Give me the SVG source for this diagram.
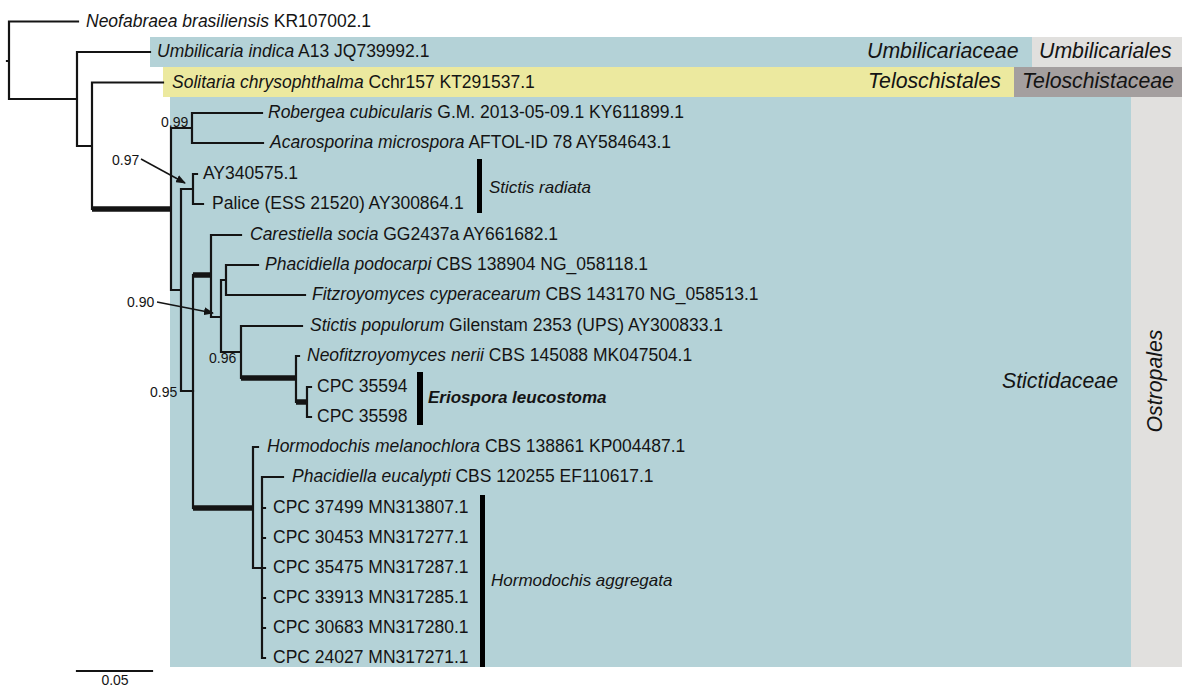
<svg xmlns="http://www.w3.org/2000/svg" width="1182" height="687" viewBox="0 0 1182 687">
<defs>
<style>
text{font-family:"Liberation Sans",Arial,sans-serif;fill:#141414}
.tip{font-size:17.5px}
.cl{font-size:17px;font-style:italic}
.i{font-style:italic}
.fam{font-size:21.3px;font-style:italic}
.sup{font-size:14px}
.br{stroke:#141414;stroke-width:2.2;fill:none;stroke-linecap:square}
.thick{stroke:#141414;stroke-width:5.5;fill:none}
.bar{fill:#000}
.arr{stroke:#141414;stroke-width:1.5;fill:none}
</style>
<marker id="ah" markerWidth="10" markerHeight="8" refX="9" refY="4" orient="auto" markerUnits="userSpaceOnUse">
<path d="M0,0 L10,4 L0,8 Z" fill="#141414"/>
</marker>
</defs>
<rect width="1182" height="687" fill="#ffffff"/>
<g id="backgrounds">
<rect x="150" y="37" width="882" height="30" fill="#b4d2d7"/>
<rect x="1032" y="37" width="150" height="30" fill="#e1e0de"/>
<rect x="163" y="67" width="851" height="30" fill="#ece99f"/>
<rect x="1014" y="67" width="168" height="30" fill="#a49f9f"/>
<rect x="170" y="97" width="961" height="570" fill="#b4d2d7"/>
<rect x="1131" y="97" width="51" height="570" fill="#e1e0de"/>
</g>
<g id="connectors">
<path class="br" d="M7,61 H9 M9,21.5 V99 M9,21.5 H78 M9,99 H77 M77,52 V146 M77,52 H150 M77,146 H92 M92,82.5 V209 M92,82.5 H163"/>
<path class="thick" d="M92,209 H171"/>
<path class="br" d="M171,128 V290 M171,128 H192 M192,113 V143 M192,113 H262 M192,143 H263 M171,290 H181 M181,189 V391 M181,189 H193 M193,174 V204 M193,174 H197 M193,204 H203 M181,391 H193"/>
<path class="br" d="M193,275 V508"/>
<path class="thick" d="M193,275 H211"/>
<path class="br" d="M211,235 V317 M211,235 H241 M211,317 H221 M221,280 V352 M221,280 H226 M226,265 V295 M226,265 H258 M226,295 H305 M221,352 H241 M241,326 V378 M241,326 H302"/>
<path class="thick" d="M241,378 H296"/>
<path class="br" d="M296,356 V402 M296,356 H299"/>
<path class="thick" d="M296,402 H307"/>
<path class="br" d="M307,387 V417 M307,387 H311 M307,417 H311"/>
<path class="thick" d="M193,508 H253"/>
<path class="br" d="M253,447 V568 M253,447 H258 M253,568 H262 M262,477 V658 M262,477 H283 M262,508 H265 M262,538 H265 M262,568 H265 M262,598 H265 M262,628 H265 M262,658 H265"/>
<line class="arr" x1="141" y1="159" x2="185" y2="183" marker-end="url(#ah)"/>
<line class="arr" x1="157" y1="302" x2="213" y2="313" marker-end="url(#ah)"/>
<path class="br" d="M77,671 H152"/>
</g>
<g id="clade-bars">
<rect class="bar" x="477" y="159" width="5" height="54"/>
<rect class="bar" x="417" y="372" width="6" height="53"/>
<rect class="bar" x="480" y="495" width="5" height="172"/>
</g>
<g id="tips">
<text class="tip" x="86" y="26.5"><tspan class="i">Neofabraea brasiliensis</tspan> KR107002.1</text>
<text class="tip" x="157" y="57"><tspan class="i">Umbilicaria indica</tspan> A13 JQ739992.1</text>
<text class="tip" x="172" y="87.5"><tspan class="i">Solitaria chrysophthalma</tspan> Cchr157 KT291537.1</text>
<text class="tip" x="268" y="118"><tspan class="i">Robergea cubicularis</tspan> G.M. 2013-05-09.1 KY611899.1</text>
<text class="tip" x="270" y="148"><tspan class="i">Acarosporina microspora</tspan> AFTOL-ID 78 AY584643.1</text>
<text class="tip" x="203" y="179">AY340575.1</text>
<text class="tip" x="212" y="209">Palice (ESS 21520) AY300864.1</text>
<text class="tip" x="250" y="240"><tspan class="i">Carestiella socia</tspan> GG2437a AY661682.1</text>
<text class="tip" x="265" y="270"><tspan class="i">Phacidiella podocarpi</tspan> CBS 138904 NG_058118.1</text>
<text class="tip" x="312" y="300"><tspan class="i">Fitzroyomyces cyperacearum</tspan> CBS 143170 NG_058513.1</text>
<text class="tip" x="310" y="331"><tspan class="i">Stictis populorum</tspan> Gilenstam 2353 (UPS) AY300833.1</text>
<text class="tip" x="307" y="361"><tspan class="i">Neofitzroyomyces nerii</tspan> CBS 145088 MK047504.1</text>
<text class="tip" x="317" y="392">CPC 35594</text>
<text class="tip" x="317" y="422">CPC 35598</text>
<text class="tip" x="267" y="452"><tspan class="i">Hormodochis melanochlora</tspan> CBS 138861 KP004487.1</text>
<text class="tip" x="292" y="482"><tspan class="i">Phacidiella eucalypti</tspan> CBS 120255 EF110617.1</text>
<text class="tip" x="273" y="513">CPC 37499 MN313807.1</text>
<text class="tip" x="273" y="543">CPC 30453 MN317277.1</text>
<text class="tip" x="273" y="573">CPC 35475 MN317287.1</text>
<text class="tip" x="273" y="603">CPC 33913 MN317285.1</text>
<text class="tip" x="273" y="633">CPC 30683 MN317280.1</text>
<text class="tip" x="273" y="663">CPC 24027 MN317271.1</text>
</g>
<g id="clade-labels">
<text class="cl" x="489" y="193">Stictis radiata</text>
<text class="cl" x="428" y="403" font-weight="bold">Eriospora leucostoma</text>
<text class="cl" x="491" y="586">Hormodochis aggregata</text>
</g>
<g id="family-labels">
<text class="fam" x="867" y="58">Umbilicariaceae</text>
<text class="fam" x="1039" y="58">Umbilicariales</text>
<text class="fam" x="868" y="88">Teloschistales</text>
<text class="fam" x="1022" y="88">Teloschistaceae</text>
<text class="fam" x="1002" y="388">Stictidaceae</text>
<text class="fam" x="0" y="0" text-anchor="middle" transform="translate(1162,381) rotate(-90)">Ostropales</text>
</g>
<g id="support">
<text class="sup" x="161" y="127">0.99</text>
<text class="sup" x="112" y="165">0.97</text>
<text class="sup" x="127" y="307">0.90</text>
<text class="sup" x="209" y="363">0.96</text>
<text class="sup" x="150" y="397">0.95</text>
<text class="sup" x="115" y="685" text-anchor="middle">0.05</text>
</g>
</svg>
